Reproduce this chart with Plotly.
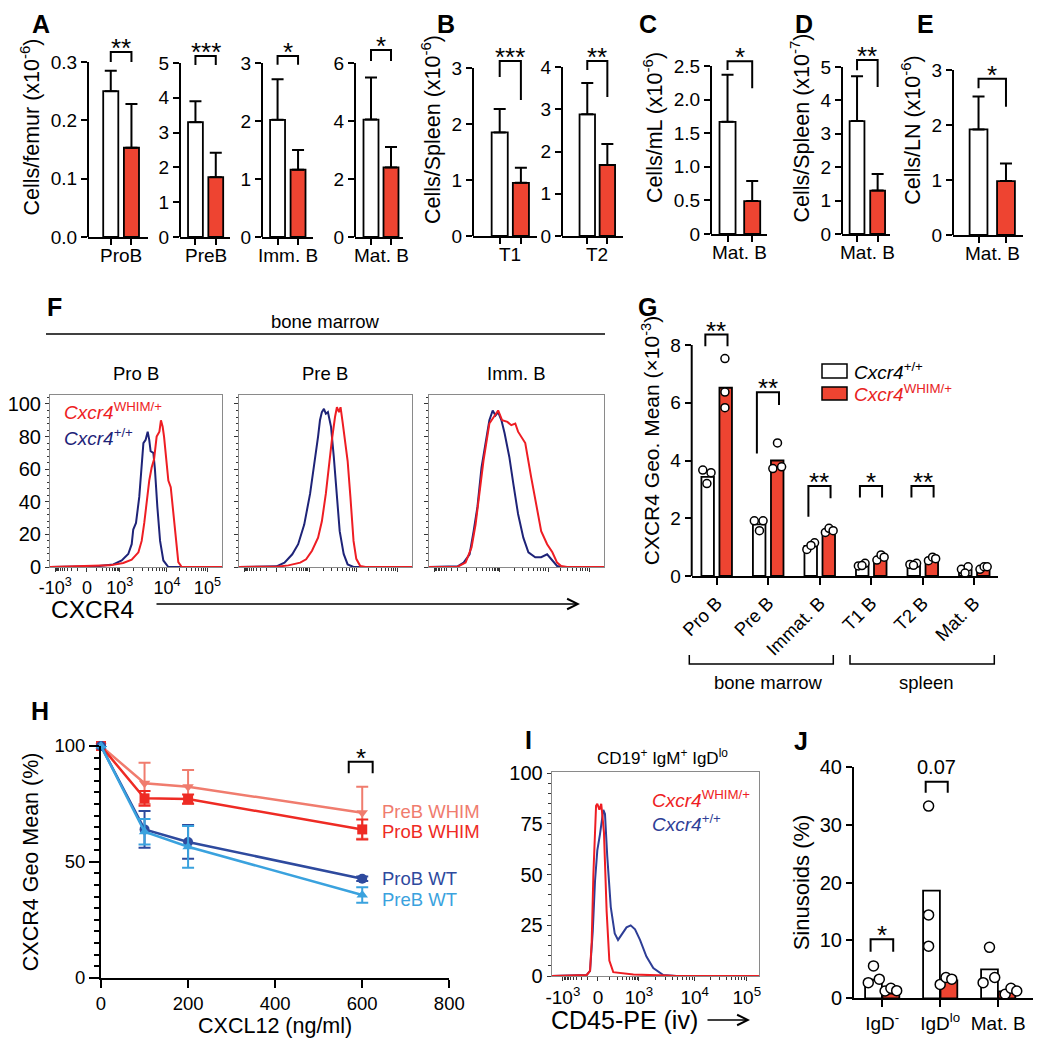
import numpy as np
import plotly.graph_objects as go

W, H = 1045, 1050
PAGE = 8  # browser body margin around the plot div
FW, FH = W - PAGE, H - PAGE
FONT = "Liberation Sans, Arial, sans-serif"
RED = "#EE4431"
HIST_RED = "#EE1D23"
HIST_BLUE = "#1E2378"
I_BLUE = "#2E3E96"

# ---------------- A-E: cell numbers (mean, SD) ----------------
A_labels = ["ProB", "PreB", "Imm. B", "Mat. B"]
A_wt = [0.25, 3.30, 2.02, 4.05]
A_wt_sd = [0.035, 0.60, 0.70, 1.45]
A_whim = [0.153, 1.72, 1.16, 2.40]
A_whim_sd = [0.075, 0.70, 0.34, 0.70]
A_stars = ["**", "***", "*", "*"]

B_labels = ["T1", "T2"]
B_wt = [1.85, 2.88]
B_wt_sd = [0.42, 0.74]
B_whim = [0.95, 1.68]
B_whim_sd = [0.27, 0.50]
B_stars = ["***", "**"]

C_wt, C_wt_sd, C_whim, C_whim_sd = 1.67, 0.70, 0.49, 0.30
D_wt, D_wt_sd, D_whim, D_whim_sd = 3.38, 1.34, 1.30, 0.50
E_wt, E_wt_sd, E_whim, E_whim_sd = 1.92, 0.60, 0.98, 0.32

# ---------------- F: CXCR4 histograms (display channel, % of max) ----------------
F_prob_wt_x = [0, 271, 368, 417, 455, 475, 484, 500, 519, 533, 543, 556, 568, 577, 585, 601, 610, 624, 640, 659, 688, 1000]
F_prob_wt_y = [0, 0.4, 1.6, 4, 8, 14, 23, 27, 43, 62, 76, 78, 83, 78, 71, 70, 60, 37, 16, 4, 0, 0]
F_prob_whim_x = [0, 233, 349, 426, 475, 514, 533, 548, 562, 577, 591, 605, 620, 636, 645, 655, 663, 674, 688, 702, 717, 733, 746, 766, 1000]
F_prob_whim_y = [0, 0.4, 1, 2.5, 4.5, 9, 16, 27, 41, 53, 61, 66, 80, 83, 90, 86, 80, 66, 53, 49, 33, 14, 3, 0, 0]
F_preb_wt_x = [0, 217, 263, 308, 342, 377, 411, 434, 457, 468, 479, 491, 502, 514, 532, 548, 564, 582, 605, 628, 662, 1000]
F_preb_wt_y = [0, 0.4, 2.7, 7.8, 14, 26, 45, 61, 80, 90, 95, 97, 94, 95, 86, 67.5, 43, 22, 8, 1.6, 0, 0]
F_preb_whim_x = [0, 217, 285, 354, 388, 422, 457, 479, 502, 521, 537, 555, 566, 578, 587, 600, 612, 628, 644, 662, 678, 701, 731, 1000]
F_preb_whim_y = [0, 0.2, 1, 2.7, 4.7, 10, 18, 28, 45, 65, 78, 92, 98, 95, 98, 88, 78, 65, 43, 16, 5, 0.6, 0, 0]
F_imm_wt_x = [0, 164, 198, 232, 255, 277, 300, 327, 345, 364, 380, 395, 414, 432, 459, 482, 509, 539, 568, 607, 641, 675, 698, 732, 766, 1000]
F_imm_wt_y = [0, 0.4, 2.7, 7.8, 22, 37, 61, 80, 90, 96, 93, 95, 90, 82, 67.5, 51, 32.5, 18, 9, 6, 6, 7.8, 4.7, 0.6, 0, 0]
F_imm_whim_x = [0, 164, 209, 243, 266, 289, 311, 345, 368, 395, 418, 448, 470, 493, 509, 527, 550, 584, 607, 641, 675, 705, 732, 755, 789, 1000]
F_imm_whim_y = [0, 0.2, 2.7, 12, 26, 45, 65, 88, 92, 96, 90, 89, 87, 88, 83, 80, 76, 55, 41, 22, 14, 9, 2.7, 0.6, 0, 0]
F_titles = ["Pro B", "Pre B", "Imm. B"]
F_decades = [30, 215, 405, 680, 915]   # channel of -10^3, 0, 10^3, 10^4, 10^5

# ---------------- G: CXCR4 geo mean ----------------
G_cats = ["Pro B", "Pre B", "Immat. B", "T1 B", "T2 B", "Mat. B"]
G_wt = [3.43, 1.79, 1.04, 0.38, 0.40, 0.21]
G_whim = [6.52, 4.00, 1.51, 0.58, 0.55, 0.25]
G_wt_pts = [[3.67, 3.58, 3.20], [1.91, 1.91, 1.57], [0.92, 1.15, 1.06], [0.35, 0.44, 0.36], [0.40, 0.44, 0.37], [0.23, 0.32, 0.10]]
G_whim_pts = [[7.53, 6.37, 5.83], [4.61, 3.72, 3.78], [1.51, 1.65, 1.57], [0.55, 0.73, 0.65], [0.53, 0.65, 0.60], [0.23, 0.32, 0.32]]
G_wt_dx = [[-0.27, -0.11, -0.19], [-0.27, -0.10, -0.17], [-0.25, -0.10, -0.17], [-0.25, -0.12, -0.18], [-0.25, -0.12, -0.18], [-0.25, -0.12, -0.18]]
G_whim_dx = [[0.16, 0.16, 0.16], [0.18, 0.09, 0.26], [0.11, 0.18, 0.26], [0.11, 0.19, 0.25], [0.11, 0.19, 0.25], [0.11, 0.19, 0.25]]
G_stars = ["**", "**", "**", "*", "**"]

# ---------------- H: CXCR4 internalisation ----------------
H_x = [0, 100, 200, 600]
H_preb_whim = [100, 83.9, 82.4, 71.2]
H_preb_whim_sd = [0, 8.9, 7.2, 11.2]
H_prob_whim = [100, 77.4, 77.1, 64.0]
H_prob_whim_sd = [0, 3.2, 2.0, 4.3]
H_prob_wt = [100, 64.0, 58.6, 42.7]
H_prob_wt_sd = [0, 7.9, 7.3, 1.0]
H_preb_wt = [100, 63.0, 56.5, 35.7]
H_preb_wt_sd = [0, 5.5, 9.0, 3.3]
H_names = ["PreB WHIM", "ProB WHIM", "ProB WT", "PreB WT"]

# ---------------- I: CD45-PE iv histogram ----------------
I_whim_x = [0, 169, 185, 193, 201, 209, 214, 220, 230, 239, 252, 265, 278, 297, 394, 555, 600, 1000]
I_whim_y = [0, 0.5, 2.5, 17, 50, 75, 84, 85, 82, 85, 71, 32, 7.6, 1.9, 0.7, 0.2, 0, 0]
I_wt_x = [0, 169, 185, 198, 209, 220, 233, 243, 249, 257, 268, 285, 304, 320, 342, 361, 381, 402, 426, 457, 490, 538, 602, 1000]
I_wt_y = [0, 0.5, 2.5, 22, 47, 62, 70, 77, 82, 80, 59, 34, 21, 17.8, 21, 24, 25, 23, 17.8, 9.6, 3.9, 0.5, 0, 0]
I_decades = [54, 223, 421, 690, 941]

# ---------------- J: sinusoidal fraction ----------------
J_cats = ["IgD<sup>-</sup>", "IgD<sup>lo</sup>", "Mat. B"]
J_wt = [3.2, 18.6, 5.0]
J_whim = [0.8, 3.1, 1.2]
J_wt_pts = [[2.7, 5.6, 3.3], [33.2, 14.4, 9.0], [2.7, 8.8, 3.6]]
J_whim_pts = [[1.27, 1.73, 1.32], [2.4, 3.6, 3.3], [0.7, 1.73, 1.27]]
J_wt_dx = [[-0.24, -0.15, -0.05], [-0.2, -0.2, -0.2], [-0.26, -0.15, -0.06]]
J_whim_dx = [[0.05, 0.15, 0.25], [0.0, 0.1, 0.2], [0.12, 0.22, 0.32]]

fig = go.Figure()
layout = {}
shapes = []
annotations = []


def px_x(p):
    return (p - PAGE) / FW


def px_y(p):
    return 1 - (p - PAGE) / FH


def names(n):
    s = "" if n == 1 else str(n)
    return "xaxis" + s, "yaxis" + s, "x" + s, "y" + s


def text(x, y, t, size=18, xref="paper", yref="paper", **kw):
    d = dict(x=x, y=y, xref=xref, yref=yref, text=t, showarrow=False,
             xanchor="center", yanchor="middle",
             font=dict(size=size, family=FONT, color=kw.pop("color", "black")))
    d.update(kw)
    annotations.append(d)


def bracket(xr, yr, x0, x1, top, left, right, label, size=26):
    shapes.append(dict(type="path", xref=xr, yref=yr,
                       path=f"M{x0},{left} L{x0},{top} L{x1},{top} L{x1},{right}",
                       line=dict(color="black", width=2)))
    is_star = label.strip("*") == ""
    text((x0 + x1) / 2, top, label, size=size if is_star else 20, xref=xr, yref=yr,
         yanchor="bottom", yshift=-13 if is_star else 2)


def bar_panel(n, xpx, ypx, ymax, tickvals, ticktext, xrng, bw, wt, wt_sd, whim, whim_sd,
              label, stars, br, title=None, ext=45):
    xa, ya, xr, yr = names(n)
    y0, yt = ypx
    rtop = ymax * (y0 - yt + ext) / (y0 - yt)
    layout[xa] = dict(domain=[px_x(xpx[0]), px_x(xpx[1])], range=list(xrng), anchor=yr,
                      showline=True, linecolor="black", linewidth=2, ticks="outside",
                      ticklen=6, tickwidth=2, tickcolor="black", tickvals=[0, 1],
                      ticktext=["", ""], showgrid=False, zeroline=False, automargin=False)
    layout[ya] = dict(domain=[px_y(y0), px_y(yt - ext)], range=[0, rtop], anchor=xr,
                      showline=False, ticks="outside", ticklen=6, tickwidth=2,
                      tickcolor="black", tickvals=tickvals,
                      ticktext=ticktext or [str(v) for v in tickvals],
                      tickfont=dict(size=19), showgrid=False, zeroline=False, automargin=False,
                      title=dict(text=title or "", font=dict(size=21.5), standoff=5))
    fig.add_trace(go.Bar(x=[0, 1], y=[wt, whim], width=bw,
                         marker=dict(color=["white", RED], line=dict(color="black", width=1.8)),
                         error_y=dict(type="data", symmetric=False, array=[wt_sd, whim_sd],
                                      arrayminus=[0, 0], color="black", thickness=2, width=6),
                         xaxis=xr, yaxis=yr))
    shapes.append(dict(type="line", xref=xr + " domain", yref=yr, x0=0, x1=0, y0=0, y1=ymax,
                       line=dict(color="black", width=2)))
    top, left, right = br
    bracket(xr, yr, 0, 1, top, left, right, stars)
    text(0.5, 0, label, size=19, xref=xr, yref=yr + " domain", yanchor="top", yshift=-6)


# ---- A ----
bar_panel(1, (88, 148), (237, 62), 0.3, [0, 0.1, 0.2, 0.3], ["0.0", "0.1", "0.2", "0.3"],
          (-1.1, 1.8), 0.73, A_wt[0], A_wt_sd[0], A_whim[0], A_whim_sd[0], A_labels[0], A_stars[0],
          (0.317, 0.30, 0.30), title="Cells/femur (x10<sup>-6</sup>)")
bar_panel(2, (180, 230), (237, 63), 5, [0, 1, 2, 3, 4, 5], None, (-0.76, 1.7), 0.73,
          A_wt[1], A_wt_sd[1], A_whim[1], A_whim_sd[1], A_labels[1], A_stars[1], (5.2, 4.94, 4.94))
bar_panel(3, (262, 313), (237, 63), 3, [0, 1, 2, 3], None, (-0.76, 1.73), 0.73,
          A_wt[2], A_wt_sd[2], A_whim[2], A_whim_sd[2], A_labels[2], A_stars[2], (3.12, 2.97, 2.97))
bar_panel(4, (355, 403), (237, 63), 6, [0, 2, 4, 6], None, (-0.8, 1.6), 0.75,
          A_wt[3], A_wt_sd[3], A_whim[3], A_whim_sd[3], A_labels[3], A_stars[3], (6.45, 6.07, 6.07))
# ---- B ----
bar_panel(5, (473, 537), (236, 68), 3, [0, 1, 2, 3], None, (-1.26, 1.76), 0.76,
          B_wt[0], B_wt_sd[0], B_whim[0], B_whim_sd[0], B_labels[0], B_stars[0], (3.125, 2.84, 2.43),
          title="Cells/Spleen (x10<sup>-6</sup>)")
bar_panel(6, (562, 623), (236, 67), 4, [0, 1, 2, 3, 4], None, (-1.26, 1.78), 0.77,
          B_wt[1], B_wt_sd[1], B_whim[1], B_whim_sd[1], B_labels[1], B_stars[1], (4.14, 3.93, 3.29))
# ---- C, D, E ----
bar_panel(7, (711, 767), (234, 66), 2.5, [0, 0.5, 1, 1.5, 2, 2.5], ["0", "0.5", "1.0", "1.5", "2.0", "2.5"],
          (-0.67, 1.6), 0.65, C_wt, C_wt_sd, C_whim, C_whim_sd, "Mat. B", "*", (2.57, 2.44, 2.17),
          title="Cells/mL (x10<sup>-6</sup>)")
bar_panel(8, (842, 890), (234, 67), 5, [0, 1, 2, 3, 4, 5], None, (-0.73, 1.6), 0.72,
          D_wt, D_wt_sd, D_whim, D_whim_sd, "Mat. B", "**", (5.21, 4.9, 4.4),
          title="Cells/Spleen (x10<sup>-7</sup>)")
bar_panel(9, (953, 1023), (235, 70), 3, [0, 1, 2, 3], None, (-0.93, 1.62), 0.65,
          E_wt, E_wt_sd, E_whim, E_whim_sd, "Mat. B", "*", (2.84, 2.67, 2.33),
          title="Cells/LN (x10<sup>-6</sup>)")


# ---- F: histograms ----
def flow_ticks(dec_pos):
    tneg, t0, t3, t4, t5 = dec_pos
    minor = []
    for k in range(2, 10):
        minor += [t3 + (t4 - t3) * np.log10(k), t4 + (t5 - t4) * np.log10(k)]
    for k in range(1, 10):
        f = np.arcsinh(k) / np.arcsinh(10)
        minor += [t0 + (t3 - t0) * f, t0 - (t0 - tneg) * f]
    return list(dec_pos), minor


FLOW_LABELS = ["-10<sup>3</sup>", "0", "10<sup>3</sup>", "10<sup>4</sup>", "10<sup>5</sup>"]


def hist_panel(n, xpx, ypx, ymax_r, ydtick, yminor, xticks, show_labels, curves):
    xa, ya, xr, yr = names(n)
    major, minor = xticks
    box = dict(showline=True, mirror=True, linecolor="#8a8a8a", linewidth=1, showgrid=False,
               zeroline=False, ticks="outside", ticklen=4, tickwidth=1, tickcolor="#333",
               tickfont=dict(size=20), automargin=False)
    layout[xa] = dict(box, domain=[px_x(xpx[0]), px_x(xpx[1])], range=[0, 1000], anchor=yr,
                      tickvals=major, ticktext=FLOW_LABELS if show_labels else [""] * 5,
                      tickangle=0, tickfont=dict(size=18),
                      minor=dict(tickvals=minor, ticks="outside", ticklen=2.5, tickcolor="#333"))
    layout[ya] = dict(box, domain=[px_y(ypx[0]), px_y(ypx[1])], range=[0, ymax_r], anchor=xr,
                      tickmode="linear", tick0=0, dtick=ydtick, showticklabels=show_labels,
                      minor=dict(dtick=yminor, ticks="outside", ticklen=2.5, tickcolor="#333"))
    for cx, cy, col in curves:
        fig.add_trace(go.Scatter(x=cx, y=cy, mode="lines", line=dict(color=col, width=2),
                                 xaxis=xr, yaxis=yr))


fticks = flow_ticks(F_decades)
hist_panel(10, (50, 222), (567, 395), 105.5, 20, 4, fticks, True,
           [(F_prob_wt_x, F_prob_wt_y, HIST_BLUE), (F_prob_whim_x, F_prob_whim_y, HIST_RED)])
hist_panel(11, (239, 412), (567, 395), 105.5, 20, 4, fticks, False,
           [(F_preb_wt_x, F_preb_wt_y, HIST_BLUE), (F_preb_whim_x, F_preb_whim_y, HIST_RED)])
hist_panel(12, (429, 604), (567, 395), 105.5, 20, 4, fticks, False,
           [(F_imm_wt_x, F_imm_wt_y, HIST_BLUE), (F_imm_whim_x, F_imm_whim_y, HIST_RED)])
for cx, t in zip([136, 325, 516], F_titles):
    text(px_x(cx), px_y(373), t, size=18.5)
text(px_x(325), px_y(321), "bone marrow", size=18.5)
shapes.append(dict(type="line", xref="paper", yref="paper", x0=px_x(46), x1=px_x(605),
                   y0=px_y(334), y1=px_y(334), line=dict(color="black", width=1.5)))
text(px_x(62), px_y(411), "<i>Cxcr4</i><sup>WHIM/+</sup>", size=19, color=HIST_RED, xanchor="left")
text(px_x(62), px_y(437), "<i>Cxcr4</i><sup>+/+</sup>", size=19, color=HIST_BLUE, xanchor="left")
text(px_x(92), px_y(609), "CXCR4", size=24.5)
annotations.append(dict(xref="paper", yref="paper", x=px_x(580), y=px_y(604), ax=-425, ay=0,
                        axref="pixel", ayref="pixel", text="", showarrow=True, arrowhead=5,
                        arrowsize=1.6, arrowwidth=1.3, arrowcolor="black"))

# ---- G ----
G_pos = np.arange(len(G_cats))
g0, g8, gext = 576, 345, 40
layout["xaxis13"] = dict(domain=[px_x(691.7), px_x(998)], range=[-0.485, 5.46], anchor="y13",
                         showline=True, linecolor="black", linewidth=2, ticks="outside", ticklen=7,
                         tickwidth=2, tickcolor="black", tickvals=G_pos, ticktext=G_cats,
                         tickangle=-45, tickfont=dict(size=18.5), showgrid=False, zeroline=False,
                         automargin=False)
layout["yaxis13"] = dict(domain=[px_y(g0), px_y(g8 - gext)], range=[0, 8 * (g0 - g8 + gext) / (g0 - g8)],
                         anchor="x13", showline=False, ticks="outside", ticklen=6, tickwidth=2,
                         tickcolor="black", tickvals=[0, 2, 4, 6, 8], tickfont=dict(size=19),
                         showgrid=False, zeroline=False, automargin=False,
                         title=dict(text="CXCR4 Geo. Mean (×10<sup>-3</sup>)", font=dict(size=21), standoff=4))
shapes.append(dict(type="line", xref="x13 domain", yref="y13", x0=0, x1=0, y0=0, y1=8,
                   line=dict(color="black", width=2)))
fig.add_trace(go.Bar(x=G_pos - 0.175, y=G_wt, width=0.243, marker=dict(color="white", line=dict(color="black", width=1.8)),
                     xaxis="x13", yaxis="y13"))
fig.add_trace(go.Bar(x=G_pos + 0.175, y=G_whim, width=0.243, marker=dict(color=RED, line=dict(color="black", width=1.8)),
                     xaxis="x13", yaxis="y13"))
for pts, dxs in [(G_wt_pts, G_wt_dx), (G_whim_pts, G_whim_dx)]:
    xs = [p + d for p, ds in zip(G_pos, dxs) for d in ds]
    ys = [v for vs in pts for v in vs]
    fig.add_trace(go.Scatter(x=xs, y=ys, mode="markers", cliponaxis=False,
                             marker=dict(size=8, color="white", line=dict(color="black", width=1.5)),
                             xaxis="x13", yaxis="y13"))
G_br = [(8.36, 7.96, 7.96), (6.36, 4.24, 5.92), (3.12, 2.05, 2.69), (3.12, 2.72, 2.72), (3.12, 2.72, 2.72)]
for i, (b, s) in enumerate(zip(G_br, G_stars)):
    bracket("x13", "y13", i - 0.22, i + 0.21, b[0], b[1], b[2], s)
for x0, x1 in [(689.3, 833.3), (850, 994.3)]:
    shapes.append(dict(type="path", xref="paper", yref="paper",
                       path=f"M{px_x(x0)},{px_y(655)} L{px_x(x0)},{px_y(664)} L{px_x(x1)},{px_y(664)} L{px_x(x1)},{px_y(655)}",
                       line=dict(color="black", width=1.5)))
text(px_x(768), px_y(682), "bone marrow", size=18.5)
text(px_x(926), px_y(682), "spleen", size=18.5)
shapes.append(dict(type="rect", xref="paper", yref="paper", x0=px_x(822), x1=px_x(847), y0=px_y(364), y1=px_y(378),
                   fillcolor="white", line=dict(color="black", width=1.5)))
shapes.append(dict(type="rect", xref="paper", yref="paper", x0=px_x(822), x1=px_x(847), y0=px_y(387), y1=px_y(400),
                   fillcolor=RED, line=dict(color="black", width=1.5)))
text(px_x(852), px_y(371), "<i>Cxcr4</i><sup>+/+</sup>", size=19, xanchor="left")
text(px_x(852), px_y(393), "<i>Cxcr4</i><sup>WHIM/+</sup>", size=19, xanchor="left", color="#E8231E")

# ---- H ----
layout["xaxis14"] = dict(domain=[px_x(101), px_x(449.3)], range=[0, 800], anchor="y14", showline=True,
                         linecolor="black", linewidth=2, ticks="outside", ticklen=8, tickwidth=2,
                         tickcolor="black", tickmode="linear", tick0=0, dtick=200, tickfont=dict(size=18.5),
                         showgrid=False, zeroline=False, automargin=False,
                         title=dict(text="CXCL12 (ng/ml)", font=dict(size=21.5), standoff=4))
layout["yaxis14"] = dict(domain=[px_y(977.7), px_y(746)], range=[0, 100], anchor="x14", showline=True,
                         linecolor="black", linewidth=2, ticks="outside", ticklen=10, tickwidth=2,
                         tickcolor="black", tickmode="linear", tick0=0, dtick=50, tickfont=dict(size=18.5),
                         minor=dict(dtick=5, ticks="outside", ticklen=5, tickwidth=2, tickcolor="black"),
                         showgrid=False, zeroline=False, automargin=False,
                         title=dict(text="CXCR4 Geo Mean (%)", font=dict(size=21.5), standoff=10))
H_series = [(H_preb_whim, H_preb_whim_sd, "#F07C6E", "triangle-down"),
            (H_prob_whim, H_prob_whim_sd, "#EE2B24", "square"),
            (H_prob_wt, H_prob_wt_sd, "#2E4A9E", "circle"),
            (H_preb_wt, H_preb_wt_sd, "#3AA2DE", "triangle-up")]
for (ys, sd, col, sym), name, ly in zip(H_series, H_names, [71.6, 63.0, 42.9, 33.8]):
    fig.add_trace(go.Scatter(x=H_x, y=ys, mode="lines+markers", cliponaxis=False,
                             line=dict(color=col, width=2.5), marker=dict(symbol=sym, size=10, color=col),
                             error_y=dict(type="data", array=sd, color=col, thickness=2, width=6),
                             xaxis="x14", yaxis="y14"))
    text(640, ly, name, size=18.5, xref="x14", yref="y14", xanchor="left", color=col)
bracket("x14", "y14", 569, 624, 93.2, 88.2, 88.2, "*")

# ---- I ----
iticks = flow_ticks(I_decades)
layout["xaxis15"] = dict(domain=[px_x(551.7), px_x(759)], range=[0, 1000], anchor="y15", showline=True,
                         mirror=True, linecolor="#8a8a8a", linewidth=1, ticks="outside", ticklen=4,
                         tickwidth=1, tickcolor="#333", tickvals=iticks[0], ticktext=FLOW_LABELS,
                         tickangle=0, tickfont=dict(size=19), showgrid=False, zeroline=False,
                         automargin=False,
                         minor=dict(tickvals=iticks[1], ticks="outside", ticklen=2.5, tickcolor="#333"))
layout["yaxis15"] = dict(domain=[px_y(976), px_y(771.7)], range=[0, 100.8], anchor="x15", showline=True,
                         mirror=True, linecolor="#8a8a8a", linewidth=1, ticks="outside", ticklen=4,
                         tickwidth=1, tickcolor="#333", tickmode="linear", tick0=0, dtick=25,
                         tickfont=dict(size=20), showgrid=False, zeroline=False, automargin=False,
                         minor=dict(dtick=5, ticks="outside", ticklen=2.5, tickcolor="#333"))
fig.add_trace(go.Scatter(x=I_wt_x, y=I_wt_y, mode="lines", line=dict(color=I_BLUE, width=2), xaxis="x15", yaxis="y15"))
fig.add_trace(go.Scatter(x=I_whim_x, y=I_whim_y, mode="lines", line=dict(color=HIST_RED, width=2), xaxis="x15", yaxis="y15"))
text(px_x(662), px_y(757), "CD19<sup>+</sup> IgM<sup>+</sup> IgD<sup>lo</sup>", size=17)
text(px_x(650), px_y(799), "<i>Cxcr4</i><sup>WHIM/+</sup>", size=19, color=HIST_RED, xanchor="left")
text(px_x(650), px_y(823), "<i>Cxcr4</i><sup>+/+</sup>", size=19, color=I_BLUE, xanchor="left")
text(px_x(624), px_y(1020), "CD45-PE (iv)", size=25)
annotations.append(dict(xref="paper", yref="paper", x=px_x(750), y=px_y(1020), ax=-44, ay=0,
                        axref="pixel", ayref="pixel", text="", showarrow=True, arrowhead=5,
                        arrowsize=1.6, arrowwidth=1.3, arrowcolor="black"))

# ---- J ----
J_pos = np.arange(len(J_cats))
layout["xaxis16"] = dict(domain=[px_x(854), px_x(1032.7)], range=[-0.486, 2.595], anchor="y16", showline=True,
                         linecolor="black", linewidth=2, ticks="outside", ticklen=7, tickwidth=2,
                         tickcolor="black", tickvals=J_pos, ticktext=J_cats, tickfont=dict(size=19),
                         showgrid=False, zeroline=False, automargin=False)
layout["yaxis16"] = dict(domain=[px_y(998.3), px_y(766.7)], range=[0, 40], anchor="x16", showline=True,
                         linecolor="black", linewidth=2, ticks="outside", ticklen=6, tickwidth=2,
                         tickcolor="black", tickmode="linear", tick0=0, dtick=10, tickfont=dict(size=20),
                         showgrid=False, zeroline=False, automargin=False,
                         title=dict(text="Sinusoids (%)", font=dict(size=22), standoff=4))
fig.add_trace(go.Bar(x=J_pos - 0.15, y=J_wt, width=0.29, marker=dict(color="white", line=dict(color="black", width=1.8)),
                     xaxis="x16", yaxis="y16"))
fig.add_trace(go.Bar(x=J_pos + 0.15, y=J_whim, width=0.29, marker=dict(color=RED, line=dict(color="black", width=1.8)),
                     xaxis="x16", yaxis="y16"))
for pts, dxs in [(J_wt_pts, J_wt_dx), (J_whim_pts, J_whim_dx)]:
    xs = [p + d for p, ds in zip(J_pos, dxs) for d in ds]
    ys = [v for vs in pts for v in vs]
    fig.add_trace(go.Scatter(x=xs, y=ys, mode="markers", cliponaxis=False,
                             marker=dict(size=10, color="white", line=dict(color="black", width=1.5)),
                             xaxis="x16", yaxis="y16"))
bracket("x16", "y16", -0.2, 0.19, 10.2, 8.05, 8.05, "*")
bracket("x16", "y16", 0.75, 1.13, 37.4, 35.5, 35.5, "0.07")

# ---- panel letters ----
for letter, cx, cy in [("A", 41, 24), ("B", 446, 24), ("C", 648, 24), ("D", 804, 24), ("E", 925, 24),
                       ("F", 54, 307), ("G", 647, 307), ("H", 40, 711), ("I", 528, 740), ("J", 801, 741)]:
    text(px_x(cx), px_y(cy), f"<b>{letter}</b>", size=25)

fig.update_layout(
    width=FW, height=FH, margin=dict(l=0, r=0, t=0, b=0, autoexpand=False),
    paper_bgcolor="white", plot_bgcolor="rgba(0,0,0,0)",
    font=dict(family=FONT, color="black", size=18),
    showlegend=False, barmode="overlay", hovermode=False,
    shapes=shapes, annotations=annotations, **layout,
)
fig.write_html("out.html")
